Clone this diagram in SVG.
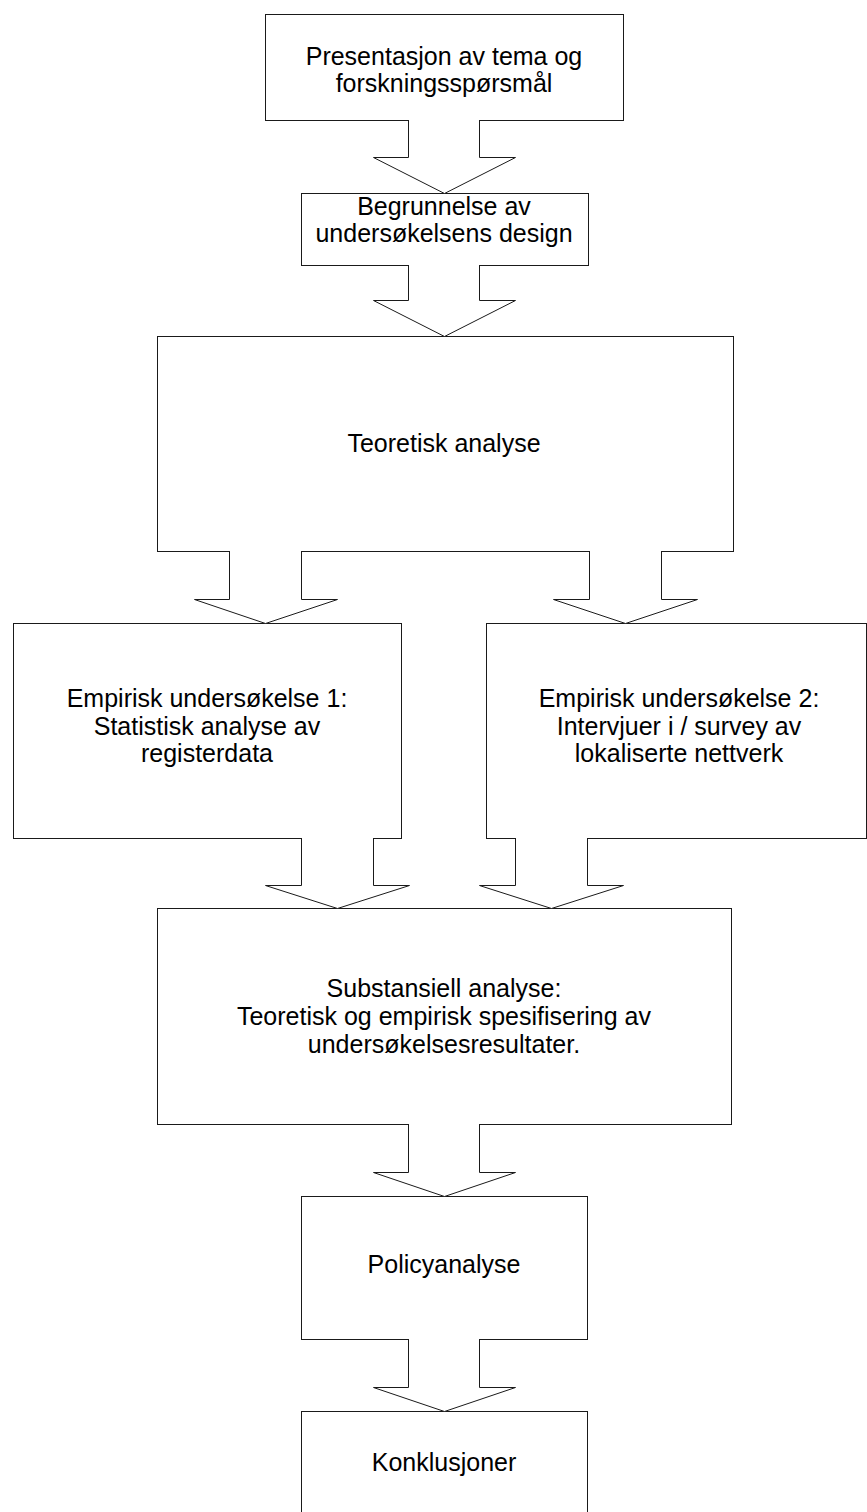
<svg xmlns="http://www.w3.org/2000/svg" width="867" height="1512" viewBox="0 0 867 1512">
<style>
.box{fill:#fff;stroke:#1a1a1a;stroke-width:1}
.fill{fill:#fff;stroke:none}
.edge{fill:none;stroke:#1a1a1a;stroke-width:1;stroke-linejoin:miter}
text{font-family:"Liberation Sans",Arial,sans-serif;font-size:25px;fill:#000;text-anchor:middle}
</style>
<rect width="867" height="1512" fill="#fff"/>
<g id="n1"><rect class="box" x="265.5" y="14.5" width="358" height="106"/>
<text x="444" y="65">Presentasjon av tema og</text><text x="444" y="92">forskningsspørsmål</text></g>
<g id="n2"><rect class="box" x="301.5" y="193.5" width="287" height="72"/>
<text x="444" y="215">Begrunnelse av</text><text x="444" y="242">undersøkelsens design</text></g>
<g id="n3"><rect class="box" x="157.5" y="336.5" width="576" height="215"/>
<text x="444" y="452">Teoretisk analyse</text></g>
<g id="n4"><rect class="box" x="13.5" y="623.5" width="388" height="215"/>
<text x="207" y="707">Empirisk undersøkelse 1:</text><text x="207" y="735">Statistisk analyse av</text><text x="207" y="762">registerdata</text></g>
<g id="n5"><rect class="box" x="486.5" y="623.5" width="380" height="215"/>
<text x="679" y="707">Empirisk undersøkelse 2:</text><text x="679" y="735">Intervjuer i / survey av</text><text x="679" y="762">lokaliserte nettverk</text></g>
<g id="n6"><rect class="box" x="157.5" y="908.5" width="574" height="216"/>
<text x="444" y="997">Substansiell analyse:</text><text x="444" y="1025">Teoretisk og empirisk spesifisering av</text><text x="444" y="1053">undersøkelsesresultater.</text></g>
<g id="n7"><rect class="box" x="301.5" y="1196.5" width="286" height="143"/>
<text x="444" y="1273">Policyanalyse</text></g>
<g id="n8"><rect class="box" x="301.5" y="1411.5" width="286" height="110"/>
<text x="444" y="1471">Konklusjoner</text></g>
<g id="connectors">
<g id="a1"><polygon class="fill" points="409,120 479,120 479,158 515.5,158 444.5,193.5 373.5,158 409,158"/>
<path class="edge" d="M408.5,120.5 V157.5 H373.5 L444.5,193.5 L515.5,157.5 H479.5 V120.5"/></g>
<g id="a2"><polygon class="fill" points="409,265 479,265 479,301 515.5,301 444.5,336.5 373.5,301 409,301"/>
<path class="edge" d="M408.5,265.5 V300.5 H373.5 L444.5,336.5 L515.5,300.5 H479.5 V265.5"/></g>
<g id="a3"><polygon class="fill" points="230,551 301,551 301,600 337.5,600 265.5,623.5 194.5,600 230,600"/>
<path class="edge" d="M229.5,551.5 V599.5 H194.5 L265.5,623.5 L337.5,599.5 H301.5 V551.5"/></g>
<g id="a4"><polygon class="fill" points="590,551 661,551 661,600 697.5,600 625.5,623.5 553.5,600 590,600"/>
<path class="edge" d="M589.5,551.5 V599.5 H553.5 L625.5,623.5 L697.5,599.5 H661.5 V551.5"/></g>
<g id="a5"><polygon class="fill" points="302,838 373,838 373,886 409.5,886 337.5,908.5 265.5,886 302,886"/>
<path class="edge" d="M301.5,838.5 V885.5 H265.5 L337.5,908.5 L409.5,885.5 H373.5 V838.5"/></g>
<g id="a6"><polygon class="fill" points="516,838 587,838 587,886 623.5,886 551.5,908.5 479.5,886 516,886"/>
<path class="edge" d="M515.5,838.5 V885.5 H479.5 L551.5,908.5 L623.5,885.5 H587.5 V838.5"/></g>
<g id="a7"><polygon class="fill" points="409,1124 479,1124 479,1173 515.5,1173 444.5,1196.5 373.5,1173 409,1173"/>
<path class="edge" d="M408.5,1124.5 V1172.5 H373.5 L444.5,1196.5 L515.5,1172.5 H479.5 V1124.5"/></g>
<g id="a8"><polygon class="fill" points="409,1339 479,1339 479,1388 515.5,1388 444.5,1411.5 373.5,1388 409,1388"/>
<path class="edge" d="M408.5,1339.5 V1387.5 H373.5 L444.5,1411.5 L515.5,1387.5 H479.5 V1339.5"/></g>
</g>
</svg>
